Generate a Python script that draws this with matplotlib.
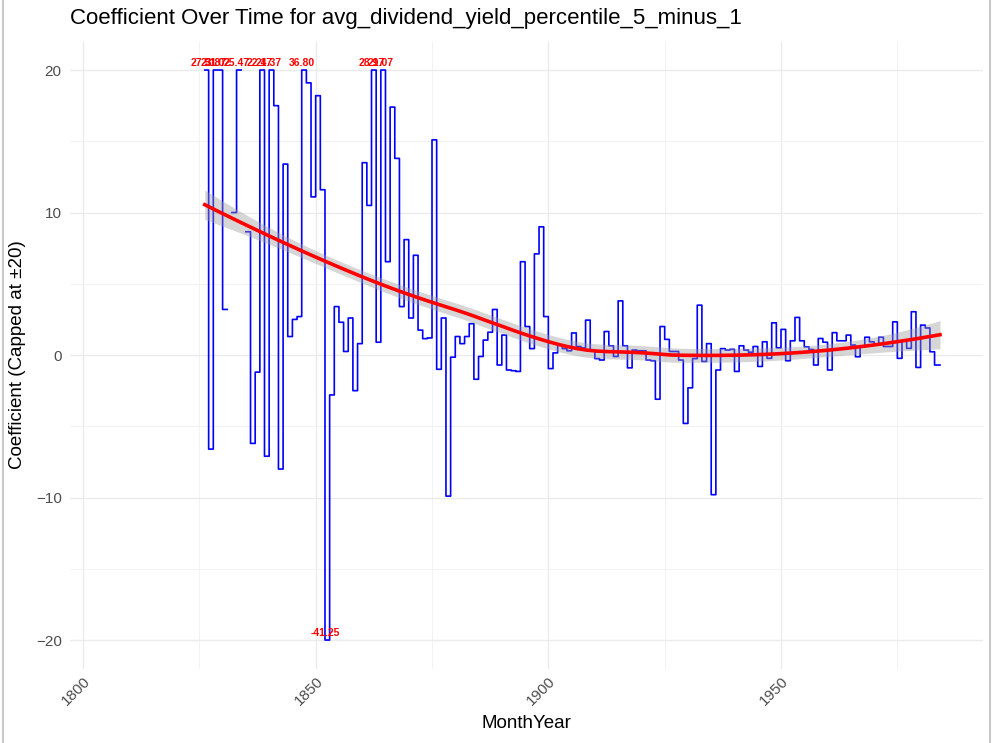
import numpy as np
import matplotlib.pyplot as plt
from matplotlib.lines import Line2D

plt.rcParams['font.family'] = ['Liberation Sans', 'DejaVu Sans']

# Dane: rok i wspolczynnik (obciety do +-20), NaN = brak danych
years = np.arange(1826, 1985)
coef = [
    20, -6.6, 20, 20, 3.2, np.nan, 10.0, 20, np.nan, 8.65,          # 1826-1835
    -6.2, -1.2, 20, -7.1, 20, 17.5, -8.0, 13.4, 1.3, 2.5,            # 1836-1845
    2.7, 20, 19.1, 11.1, 18.2, 11.6, -20, -2.8, 3.4, 2.3,            # 1846-1855
    0.25, 2.6, -2.5, 0.8, 13.5, 10.5, 20, 0.9, 20, 6.55,             # 1856-1865
    17.4, 13.8, 3.4, 8.1, 2.6, 7.0, 1.75, 1.15, 1.2, 15.1,           # 1866-1875
    -1.0, 2.6, -9.9, -0.15, 1.3, 0.8, 1.3, 2.2, -1.7, -0.1,          # 1876-1885
    1.05, 1.6, 3.2, -0.7, 1.4, -1.05, -1.1, -1.15, 6.55, 2.0,        # 1886-1895
    0.45, 7.1, 9.0, 2.7, -0.95, 0.15, 0.7, 0.45, 0.3, 1.55,          # 1896-1905
    0.6, 0.5, 2.45, 0.35, -0.25, -0.35, 1.65, 0.65, -0.1, 3.8,       # 1906-1915
    0.65, -0.9, 0.35, 0.3, 0.3, -0.35, -0.4, -3.1, 2.0, 1.1,         # 1916-1925
    0.25, 0.25, -0.35, -4.8, -2.3, -0.25, 3.5, -0.45, 0.8, -9.8,     # 1926-1935
    -1.05, 0.45, 0.35, 0.4, -1.15, 0.65, 0.35, 0.2, 0.6, -0.8,       # 1936-1945
    0.93, -0.23, 2.26, 0.51, 1.8, -0.4, 1.0, 2.64, 1.0, 0.58,        # 1946-1955
    0.39, -0.7, 1.16, 0.9, -1.05, 1.57, 1.0, 1.0, 1.4, 0.7,          # 1956-1965
    -0.12, 0.58, 1.25, 0.93, 0.7, 1.25, 0.6, 0.6, 2.33, -0.23,       # 1966-1975
    1.0, 0.47, 3.04, -0.87, 2.1, 1.9, 0.23, -0.7, -0.7,              # 1976-1984
]
coef = np.array(coef, dtype=float)

# Etykiety dla wartosci obcietych (oryginalne wartosci)
label_years = [1826, 1828, 1829, 1833, 1838, 1840, 1847, 1852, 1862, 1864]
label_text = ["27.51", "23.87", "31.02", "25.47", "22.17", "24.37",
              "36.80", "-41.25", "28.97", "21.07"]


def loess(x, y, xs, span=0.75):
    # lokalna regresja kwadratowa z wagami tricube
    n = len(x)
    q = int(np.floor(n * span))
    L = np.zeros((len(xs), n))
    for i, x0 in enumerate(xs):
        d = np.abs(x - x0)
        h = np.partition(d, q - 1)[q - 1]
        w = np.clip(1 - (d / h) ** 3, 0, None) ** 3
        X = np.column_stack([np.ones(n), x - x0, (x - x0) ** 2])
        XtW = X.T * w
        L[i] = np.linalg.solve(XtW @ X, XtW)[0]
    return L


# dane miesieczne (marzec 1826 - marzec 1984), ta sama wartosc przez caly rok
xm = (years[:, None] + np.arange(12)[None, :] / 12).ravel()
ym = np.repeat(coef, 12)
zakres = (xm > 1826.1) & (xm < 1984.2)
xm, ym = xm[zakres], ym[zakres]
ok = ~np.isnan(ym)
xf, yf = xm[ok], ym[ok]

L_in = loess(xf, yf, xf)
res = yf - L_in @ yf
M = np.eye(len(xf)) - L_in
delta1 = np.sum(M ** 2)
sigma = np.sqrt(np.sum(res ** 2) / delta1)

xs = np.linspace(xf.min(), xf.max(), 80)
L_s = loess(xf, yf, xs)
fit = L_s @ yf
se = sigma * np.sqrt(np.sum(L_s ** 2, axis=1))

fig = plt.figure(figsize=(9.94, 7.43), dpi=100)
ax = fig.add_axes([0.0704, 0.1002, 0.9185, 0.8439])

ax.step(xm, ym, where='post', color='blue', lw=1.2, zorder=2)
ax.fill_between(xs, fit - 1.96 * se, fit + 1.96 * se, color='#999999',
                alpha=0.4, lw=0, zorder=3)
ax.plot(xs, fit, color='red', lw=2.6, zorder=4)

for yr, txt in zip(label_years, label_text):
    v = coef[yr - 1826]
    ax.text(yr, v + 0.5, txt, color='red', fontsize=7.5, fontweight='bold',
            ha='center', va='center', zorder=5)

ax.set_xlim(1797.2, 1993.4)
ax.set_ylim(-22, 22)
ax.set_xticks([1800, 1850, 1900, 1950])
ax.set_xticks([1825, 1875, 1925, 1975], minor=True)
ax.set_yticks([-20, -10, 0, 10, 20])
ax.set_yticks([-15, -5, 5, 15], minor=True)
ax.set_yticklabels(['\u221220', '\u221210', '0', '10', '20'])
ax.grid(which='major', color='#ebebeb', lw=1.0)
ax.grid(which='minor', color='#f2f2f2', lw=0.7)
ax.set_axisbelow(True)
for s in ax.spines.values():
    s.set_visible(False)
ax.tick_params(which='both', length=0, colors='#4d4d4d', labelsize=11)
ax.tick_params(axis='y', pad=6)
ax.tick_params(axis='x', pad=4)
for lab in ax.get_xticklabels():
    lab.set_rotation(45)
    lab.set_ha('right')
    lab.set_va('top')
    lab.set_rotation_mode('anchor')

ax.set_xlabel('MonthYear', fontsize=13.5, labelpad=5)
ax.set_ylabel('Coefficient (Capped at \u00b120)', fontsize=13.5, labelpad=7)
fig.text(0.0704, 0.975, 'Coefficient Over Time for avg_dividend_yield_percentile_5_minus_1',
         fontsize=16, ha='left', va='center')

# ramka zrzutu ekranu
fig.add_artist(Line2D([0.003, 0.003], [0, 1], color='#c8c8c8', lw=1.5))
fig.add_artist(Line2D([0.996, 0.996], [0, 1], color='#c8c8c8', lw=1.5))

fig.savefig('out.png', dpi=100)
